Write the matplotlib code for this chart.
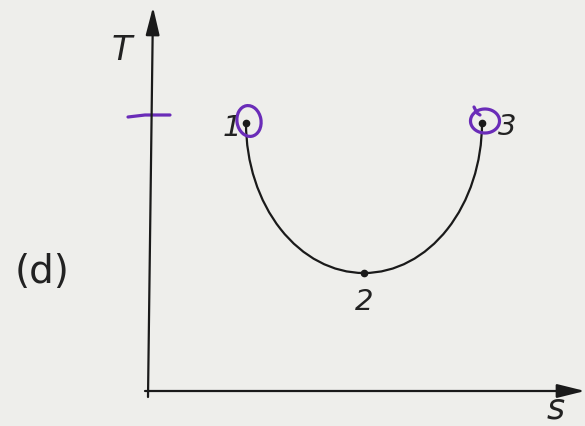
import matplotlib.pyplot as plt
from matplotlib.patches import Ellipse, Arc

# state points on the T-s diagram (arbitrary units)
state_names = ["1", "2", "3"]
state_s = [0.96, 2.14, 3.32]
state_T = [2.71, 1.21, 2.71]

# pen marks added on top of the printed figure
tick_s = [-0.22, -0.05, 0.20]
tick_T = [2.77, 2.79, 2.79]

ink = "#6a2cb8"
paper = "#eeeeeb"

fig = plt.figure(figsize=(5.85, 4.27), dpi=100, facecolor=paper)
ax = fig.add_axes([0, 0, 1, 1])
ax.set_facecolor(paper)
ax.set_xlim(-1.50, 4.35)
ax.set_ylim(-0.32, 3.95)
ax.axis("off")

# axes with arrow heads
arrow = dict(arrowstyle="-|>,head_length=1.7,head_width=0.42", color="#1a1a1a",
             lw=1.6, shrinkA=0, shrinkB=0)
ax.annotate("", xy=(0.03, 3.87), xytext=(-0.02, -0.03), arrowprops=arrow,
            annotation_clip=False)
ax.annotate("", xy=(4.35, 0.03), xytext=(-0.05, 0.03), arrowprops=arrow,
            annotation_clip=False)

# process 1 -> 2 -> 3: lower half of an ellipse through the three states
centre = ((state_s[0] + state_s[2]) / 2, (state_T[0] + state_T[2]) / 2)
ax.add_patch(Arc(centre, state_s[2] - state_s[0], 2 * (centre[1] - state_T[1]),
                 theta1=180, theta2=360, ec="#1a1a1a", lw=1.6))

ax.plot(state_s, state_T, "o", color="#1a1a1a", ms=4.5)

lab_font = dict(family="DejaVu Sans", style="italic", color="#222222")
ax.text(state_s[0] - 0.14, state_T[0] - 0.04, state_names[0], fontsize=21,
        ha="center", va="center", **lab_font)
ax.text(state_s[1], state_T[1] - 0.28, state_names[1], fontsize=21,
        ha="center", va="center", **lab_font)
ax.text(state_s[2] + 0.25, state_T[2] - 0.03, state_names[2], fontsize=21,
        ha="center", va="center", **lab_font)
ax.text(-0.28, 3.45, "T", fontsize=24, ha="center", va="center", **lab_font)
ax.text(4.06, -0.31, "s", fontsize=25, ha="center", va="bottom", **lab_font)
ax.text(-1.08, 1.23, "(d)", fontsize=28, ha="center", va="center",
        family="DejaVu Sans", color="#222222")

# handwritten marks
ax.plot(tick_s, tick_T, color=ink, lw=2.3, solid_capstyle="round")
ax.add_patch(Ellipse((state_s[0] + 0.03, state_T[0] + 0.02), 0.24, 0.31,
                     angle=10, fill=False, ec=ink, lw=2.3))
ax.add_patch(Arc((state_s[2] + 0.03, state_T[2] + 0.02), 0.29, 0.24,
                 theta1=140, theta2=500, ec=ink, lw=2.3))
ax.plot([state_s[2] - 0.08, state_s[2] - 0.05, state_s[2] - 0.02],
        [state_T[2] + 0.16, state_T[2] + 0.10, state_T[2] + 0.08],
        color=ink, lw=2.3, solid_capstyle="round")

fig.savefig("out.png", dpi=100, facecolor=paper)
